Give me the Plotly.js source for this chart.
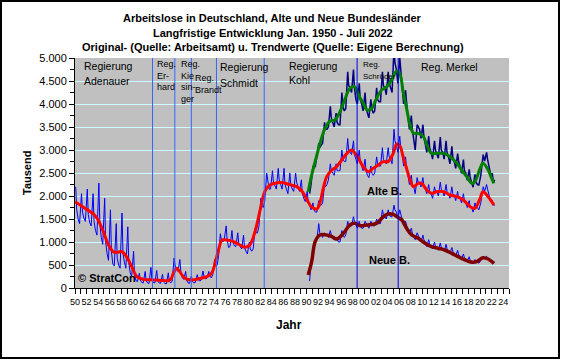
<!DOCTYPE html>
<html><head><meta charset="utf-8">
<script src="https://cdn.plot.ly/plotly-3.0.1.min.js"></script>
<style>
body{margin:0;background:#fff;}
#wrap{position:relative;width:562px;height:360px;}
#frame{position:absolute;left:0;top:0;width:556px;height:355px;border:2px solid #000;pointer-events:none;}
</style>
</head><body>
<div id="wrap"><div id="chart" style="width:562px;height:360px;"></div><div id="frame"></div></div>
<script>
// ---- raw samples (Feb, Apr, Jul, Oct of each year), in thousands ----
const rawMonths = [2, 4, 7, 10];

const westRawStart = 1950;
const westRaw = [
  2200,1700,1500,1400, 2050,1650,1520,1450, 2150,1600,1420,1350, 2050,1450,1250,1150, 2280,1400,1100,950, // 1950-54
  1950,1000,750,600,   1700,800,520,480,    1400,650,500,430,    1630,750,560,430,    1330,550,330,250,   // 1955-59
  800,280,160,140,     320,170,120,110,     360,160,110,100,     450,180,120,110,     380,150,110,100,    // 1960-64
  300,130,100,90,      330,140,110,150,     650,500,400,360,     620,350,220,190,     360,170,110,100,    // 1965-69
  260,140,110,120,     290,190,150,170,     370,250,200,210,     360,260,220,280,     620,520,490,670,    // 1970-74
  1180,1050,1000,1060, 1350,1050,880,900,   1250,1000,920,900,   1200,980,900,850,    1150,880,800,740,   // 1975-79
  1000,850,800,850,    1300,1200,1200,1350, 1950,1800,1750,1900, 2500,2300,2150,2150, 2550,2300,2200,2150, // 1980-84
  2600,2350,2250,2150, 2600,2250,2150,2050, 2500,2250,2150,2100, 2500,2300,2200,2100, 2350,2050,1950,1880, // 1985-89
  2100,1900,1800,1700, 1850,1700,1650,1650, 1900,1800,1800,1850, 2250,2200,2250,2350, 2700,2550,2500,2450, // 1990-94
  2700,2550,2550,2550, 3000,2800,2750,2750, 3250,3000,2950,2900, 3200,2900,2800,2700, 3000,2750,2650,2550, // 1995-99
  2800,2550,2450,2400, 2650,2500,2450,2500, 2850,2700,2650,2650, 3050,2800,2750,2700, 3050,2850,2800,2700, // 2000-04
  3450,3200,3100,2950, 3300,3050,2900,2650, 2850,2600,2450,2250, 2450,2250,2200,2050, 2400,2300,2300,2200, // 2005-09
  2400,2200,2150,2050, 2250,2100,2050,1950, 2200,2100,2100,2000, 2300,2150,2100,2000, 2250,2100,2050,1950, // 2010-14
  2200,2050,2000,1900, 2100,1950,1950,1850, 2050,1900,1850,1750, 1900,1750,1750,1650, 1850,1750,1750,1700, // 2015-19
  1850,2050,2200,2100, 2250,2150,2050,1900, 1900,1800,1800                                                 // 2020-22
];

const unifiedRawStart = 1990;
const totalRaw = [
  null,null,2050,2250, 2650,2600,2650,2850, 3150,3050,3100,3150, 3600,3450,3450,3500, 3950,3700,3600,3500, // 1990-94
  3800,3600,3550,3550, 4250,3950,3850,3900, 4700,4400,4350,4250, 4750,4350,4100,4000, 4450,4100,4000,3850, // 1995-99
  4250,3950,3800,3700, 4100,3900,3800,3850, 4350,4100,4050,4050, 4700,4400,4350,4200, 4700,4450,4350,4250, // 2000-04
  5200,4900,4750,4450, 5000,4700,4400,4000, 4300,3950,3700,3450, 3750,3450,3200,3000, 3550,3500,3450,3250, // 2005-09
  3550,3300,3150,2950, 3300,3050,2950,2800, 3200,3000,2900,2820, 3280,3000,2950,2800, 3200,2950,2850,2700, // 2010-14
  3080,2850,2750,2600, 2920,2750,2650,2490, 2790,2550,2500,2340, 2580,2400,2300,2190, 2470,2300,2250,2240, // 2015-19
  2450,2650,2900,2760, 2950,2800,2600,2490, 2480,2300,2350                                                 // 2020-22
];
const eastRaw = [
  null,null,150,540,   790,840,1000,1050,   1400,1200,1150,1100, 1200,1150,1150,1100, 1250,1150,1100,1050, // 1990-94
  1100,1050,1000,1000, 1250,1150,1100,1150, 1450,1400,1350,1350, 1550,1450,1350,1300, 1450,1350,1300,1300, // 1995-99
  1450,1400,1350,1300, 1450,1400,1350,1350, 1500,1450,1400,1400, 1700,1600,1550,1500, 1700,1600,1550,1550, // 2000-04
  1800,1700,1650,1500, 1700,1600,1500,1350, 1450,1350,1250,1200, 1300,1200,1100,1050, 1200,1150,1100,1000, // 2005-09
  1150,1050,1000,900,  1050,950,900,850,    1000,900,880,820,    980,880,850,800,     950,850,800,750,    // 2010-14
  880,800,750,700,     820,720,700,640,     740,660,620,590,     680,600,580,540,     620,580,560,540,    // 2015-19
  600,640,680,650,     690,660,620,590,     580,540,560                                                 // 2020-22
];

// ---- trend values (Trendwerte) ----
const westTrendYears = [1950.0,1950.9,1952.0,1953.2,1954.0,1954.9,1955.8,1956.6,1957.3,1958.1,1958.9,1959.8,1960.7,1961.8,1963.0,1964.1,1965.2,1966.1,1966.6,1967.0,1967.6,1968.1,1969.0,1970.2,1971.6,1972.8,1973.6,1974.2,1974.8,1975.4,1976.2,1977.4,1978.5,1979.4,1980.2,1981.1,1982.0,1982.8,1983.7,1985.0,1986.0,1987.0,1988.3,1989.3,1990.2,1990.9,1991.8,1992.3,1992.9,1993.5,1994.4,1995.2,1996.1,1997.0,1997.8,1998.4,1999.0,1999.8,2000.7,2001.5,2002.4,2003.3,2004.1,2005.0,2005.6,2006.2,2006.7,2007.3,2007.9,2008.5,2009.3,2009.9,2010.8,2011.6,2012.5,2013.7,2014.8,2016.0,2017.1,2018.3,2019.1,2020.0,2020.5,2021.4,2022.4];
const westTrend = [1877,1804,1710,1609,1478,1224,935,790,775,790,681,464,246,188,180,174,165,159,200,319,428,355,210,174,210,246,319,536,826,1043,1043,1007,935,884,935,1224,1696,2094,2239,2290,2290,2250,2203,2094,1890,1760,1717,1841,2167,2420,2565,2637,2783,2928,3000,2928,2819,2637,2529,2601,2674,2746,2746,2928,3130,3072,2855,2601,2348,2203,2275,2275,2130,2058,2094,2094,2022,1985,1913,1768,1732,1949,2094,1985,1804];

const totalTrendYears = [1990.3,1990.9,1991.8,1992.6,1993.2,1994.1,1994.9,1995.8,1996.7,1997.5,1998.3,1999.0,1999.8,2000.5,2001.3,2002.1,2003.0,2003.9,2004.7,2005.6,2006.2,2006.7,2007.3,2007.9,2008.5,2009.3,2010.2,2010.8,2011.6,2012.5,2013.7,2014.8,2016.0,2016.8,2017.7,2018.6,2019.1,2020.0,2020.5,2021.4,2022.0,2022.4];
const totalTrend = [2094,2456,2891,3254,3471,3630,3652,3833,4123,4341,4377,4196,4015,3870,3906,4123,4304,4377,4522,4720,4630,4268,3906,3543,3362,3362,3290,3108,2927,2927,2927,2855,2710,2565,2420,2275,2311,2601,2710,2565,2384,2275];

const eastTrendYears = [1990.3,1990.9,1991.5,1992.3,1993.5,1994.4,1995.2,1996.4,1997.5,1998.4,1999.3,2000.4,2002.1,2003.0,2003.9,2005.0,2005.9,2006.5,2007.3,2008.2,2009.3,2010.5,2011.6,2012.8,2013.9,2015.1,2016.2,2017.4,2018.6,2019.4,2020.5,2021.4,2022.4];
const eastTrend = [283,572,1007,1152,1152,1116,1065,1189,1370,1406,1354,1370,1406,1515,1602,1602,1529,1478,1298,1152,1080,971,898,862,826,754,681,609,558,572,659,630,536];

// ---- government changes ----
const govNames = ["Erhard","Kiesinger","Brandt","Schmidt","Kohl","Schröder","Merkel"];
const govStart = [1963.4,1967.25,1970.1,1974.45,1982.7,1998.75,2005.85];
const govColor = ["#3366FF","#3366FF","#3366FF","#3366FF","#3366FF","#0000EE","#0000EE"];

// ---- x tick labels ----
const tickYears = [];
for (let y = 1950; y <= 2025; y++) tickYears.push(y);
const tickLabels = tickYears.map(y => (y % 2 === 0 && y <= 2024) ? String(y).slice(2) : "");

function rawX(start, n) {
  const k = rawMonths.length, xs = [];
  for (let i = 0; i < n; i++) {
    const yr = start + Math.floor(i / k);
    xs.push(yr + (rawMonths[i % k] - 0.5) / 12);
  }
  return xs;
}

const traces = [
  {x: rawX(westRawStart, westRaw.length), y: westRaw, mode:'lines', line:{color:'#0000FF', width:1}},
  {x: rawX(unifiedRawStart, totalRaw.length), y: totalRaw, mode:'lines', line:{color:'#000080', width:1.5}},
  {x: rawX(unifiedRawStart, eastRaw.length), y: eastRaw, mode:'lines', line:{color:'#0000FF', width:1}},
  {x: westTrendYears, y: westTrend, mode:'lines', line:{color:'#FF0000', width:3, shape:'spline'}},
  {x: totalTrendYears, y: totalTrend, mode:'lines', line:{color:'#008000', width:3, shape:'spline'}},
  {x: eastTrendYears, y: eastTrend, mode:'lines', line:{color:'#800000', width:3.5, shape:'spline'}}
];
traces.forEach(t => { t.showlegend = false; t.hoverinfo = 'skip'; });

const F = 'Liberation Sans, Arial, sans-serif';
const shapes = govStart.map((g, i) => ({type:'line', xref:'x', yref:'y', x0:g, x1:g, y0:0, y1:5000, line:{color:govColor[i], width:1}, layer:'above'}));

function ann(text, x, y, size, opts) {
  return Object.assign({text, x, y, xref:'x', yref:'y', showarrow:false, xanchor:'left', yanchor:'middle', font:{family:F, size, color:'#000'}}, opts || {});
}
function pann(text, x, y, size, opts) {
  return Object.assign({text, x, y, xref:'paper', yref:'paper', showarrow:false, xanchor:'center', yanchor:'middle', font:{family:F, size, color:'#000'}}, opts || {});
}
const annotations = [
  ann('Regierung', 1951.2, 4826, 10.5), ann('Adenauer', 1951.2, 4500, 10.5),
  ann('Reg.', 1963.9, 4870, 9), ann('Er-', 1963.9, 4609, 9), ann('hard', 1963.9, 4370, 9),
  ann('Reg.', 1967.9, 4870, 9), ann('Kie', 1967.9, 4609, 9), ann('sin-', 1967.9, 4370, 9), ann('ger', 1967.9, 4109, 9),
  ann('Reg.', 1970.4, 4565, 9), ann('Brandt', 1970.4, 4304, 9),
  ann('Regierung', 1974.75, 4804, 10.5), ann('Schmidt', 1974.75, 4457, 10.5),
  ann('Regierung', 1986.55, 4826, 10.5), ann('Kohl', 1986.55, 4522, 10.5),
  ann('Reg.', 1999.35, 4848, 8), ann('Schröder', 1999.35, 4594, 8),
  ann('Reg. Merkel', 2009.5, 4811, 10.5),
  ann('<b>Alte B.</b>', 2003.4, 2115, 11, {xanchor:'center'}),
  ann('<b>Neue B.</b>', 2004.4, 609, 11, {xanchor:'center'}),
  ann('<b>© StratCon</b>', 1950.15, 217, 11),
  pann('<b>Arbeitslose in Deutschland, Alte und Neue Bundesländer</b>', 0.456, 1.174, 11),
  pann('<b>Langfristige Entwicklung Jan. 1950 - Juli 2022</b>', 0.456, 1.109, 11),
  pann('<b>Original- (Quelle: Arbeitsamt) u. Trendwerte (Quelle: Eigene Berechnung)</b>', 0.456, 1.048, 11),
  pann('<b>Tausend</b>', -0.1106, 0.5, 11, {textangle:-90}),
  pann('<b>Jahr</b>', 0.493, -0.161, 12)
];

const yCommon = {
  range:[0,5000], tickmode:'linear', tick0:0, dtick:500, tickformat:',d',
  ticks:'outside', ticklen:5, tickcolor:'#000', showline:true, linecolor:'#000', linewidth:1,
  zeroline:false, tickfont:{family:F, size:11, color:'#000'},
  minor:{dtick:250, ticks:'outside', ticklen:4, tickcolor:'#000', showgrid:false}
};

const layout = {
  width:562, height:360,
  margin:{l:75, r:53, t:58, b:72},
  paper_bgcolor:'#FFFFFF', plot_bgcolor:'#C0C0C0',
  separators:',.',
  showlegend:false,
  xaxis:{range:[1950,2025], tickmode:'array', tickvals:tickYears, ticktext:tickLabels, tickangle:0,
    ticks:'outside', ticklen:5, tickcolor:'#000', showline:true, linecolor:'#000', showgrid:false, zeroline:false,
    tickfont:{family:F, size:9, color:'#000'}},
  yaxis:Object.assign({}, yCommon, {showgrid:true, gridcolor:'#CCFFFF', gridwidth:1}),
  yaxis2:Object.assign({}, yCommon, {overlaying:'y', side:'right', showgrid:false}),
  shapes, annotations
};

Plotly.newPlot('chart', traces, layout, {staticPlot:true, displayModeBar:false});
</script>
</body></html>
